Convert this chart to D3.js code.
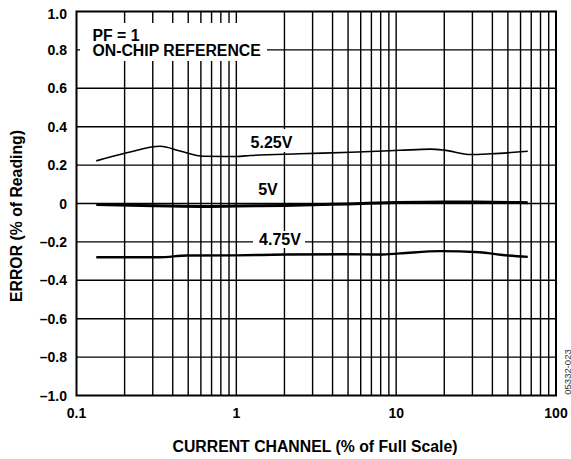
<!DOCTYPE html>
<html>
<head>
<meta charset="utf-8">
<script src="https://cdn.jsdelivr.net/npm/d3@7"></script>
<style>
body { margin: 0; background: #fff; }
text { font-family: "Liberation Sans", Arial, sans-serif; }
</style>
</head>
<body>
<div id="chart"></div>
<script>

// tick labels
var xTicks = [0.1, 1, 10, 100];
var yTicks = [-1.0, -0.8, -0.6, -0.4, -0.2, 0, 0.2, 0.4, 0.6, 0.8, 1.0];

// series (x = % of full scale, y = % error)
var x525 = [0.133, 0.206, 0.334, 0.45, 0.62, 1.0, 1.22, 2.5, 5.2, 10.6, 16.4, 19.9, 29.3, 39.3, 66.6];
var y525 = [0.222, 0.264, 0.298, 0.272, 0.246, 0.245, 0.25, 0.259, 0.267, 0.277, 0.283, 0.278, 0.255, 0.259, 0.272];

var x500 = [0.133, 0.3, 0.6, 1.0, 2.0, 5.0, 10, 20, 40, 66.6];
var y500 = [-0.005, -0.012, -0.015, -0.013, -0.01, -0.002, 0.005, 0.008, 0.007, 0.004];

var x475 = [0.133, 0.33, 0.49, 1.0, 2.0, 5.0, 8.0, 10.6, 18.9, 33.4, 45, 66.6];
var y475 = [-0.28, -0.28, -0.271, -0.27, -0.266, -0.264, -0.266, -0.26, -0.248, -0.254, -0.267, -0.278];

var curveLabels = ["5.25V", "5V", "4.75V"];

var W = 571, H = 459;
// NB: "top" is taken by window.top, so prefix these
var pLeft = 76.5, pRight = 556, pTop = 11.5, pBottom = 395.5;

var svg = d3.select("#chart").append("svg")
    .attr("width", W)
    .attr("height", H);

var x = d3.scaleLog().domain([0.1, 100]).range([pLeft, pRight]);
var y = d3.scaleLinear().domain([-1, 1]).range([pBottom, pTop]);

// minor + major vertical grid
var gridX = [];
[0.1, 1, 10].forEach(function(dec) {
    for (var k = 1; k <= 9; k++) gridX.push(dec * k);
});
gridX = gridX.filter(d => d > 0.1);

var grid = svg.append("g").attr("stroke", "#000").attr("stroke-width", 1.4);
grid.selectAll("line.v").data(gridX).enter().append("line")
    .attr("x1", d => x(d)).attr("x2", d => x(d))
    .attr("y1", pTop).attr("y2", pBottom);
grid.selectAll("line.h").data(yTicks.slice(1, -1)).enter().append("line")
    .attr("x1", pLeft).attr("x2", pRight)
    .attr("y1", d => y(d)).attr("y2", d => y(d));

// white boxes behind the notes (they hide the grid)
var boxes = [
    [80, 23, 187, 38],
    [246, 129, 50, 23],
    [253, 231, 52, 17]
];
svg.selectAll("rect.mask").data(boxes).enter().append("rect")
    .attr("x", d => d[0]).attr("y", d => d[1])
    .attr("width", d => d[2]).attr("height", d => d[3])
    .attr("fill", "#fff");

// frame
svg.append("rect")
    .attr("x", pLeft).attr("y", pTop)
    .attr("width", pRight - pLeft).attr("height", pBottom - pTop)
    .attr("fill", "none").attr("stroke", "#000").attr("stroke-width", 2);

var line = d3.line().curve(d3.curveMonotoneX);
function pts(xs, ys) { return xs.map((d, i) => [x(d), y(ys[i])]); }

var series = [
    {p: pts(x525, y525), w: 1.6},
    {p: pts(x500, y500), w: 3},
    {p: pts(x475, y475), w: 2.4}
];
svg.selectAll("path.s").data(series).enter().append("path")
    .attr("d", d => line(d.p))
    .attr("fill", "none").attr("stroke", "#000")
    .attr("stroke-width", d => d.w);

// tick labels
svg.selectAll("text.yt").data(yTicks).enter().append("text")
    .attr("x", 67).attr("y", d => y(d) + 5 + (d === 1 ? 2 : 0))
    .attr("text-anchor", "end")
    .attr("font-size", 14).attr("font-weight", "bold")
    .text(d => (d < 0 ? "\u2013" : "") + (d === 0 ? "0" : Math.abs(d).toFixed(1)));

svg.selectAll("text.xt").data(xTicks).enter().append("text")
    .attr("x", d => x(d)).attr("y", 418)
    .attr("text-anchor", "middle")
    .attr("font-size", 14).attr("font-weight", "bold")
    .text(d => String(d));

// axis titles
svg.append("text")
    .attr("x", 315).attr("y", 452)
    .attr("text-anchor", "middle")
    .attr("font-size", 15.8).attr("font-weight", "bold")
    .text("CURRENT CHANNEL (% of Full Scale)");

svg.append("text")
    .attr("transform", "translate(22,216) rotate(-90)")
    .attr("text-anchor", "middle")
    .attr("font-size", 15.8).attr("font-weight", "bold")
    .text("ERROR (% of Reading)");

// notes
svg.append("text").attr("x", 92.5).attr("y", 40.5)
    .attr("font-size", 15.8).attr("font-weight", "bold")
    .text("PF = 1");
svg.append("text").attr("x", 92.5).attr("y", 56)
    .attr("font-size", 15.8).attr("font-weight", "bold")
    .text("ON-CHIP REFERENCE");

var labelPos = [[271.5, 148.3], [268, 195], [280, 245]];
svg.selectAll("text.cl").data(curveLabels).enter().append("text")
    .attr("x", (d, i) => labelPos[i][0]).attr("y", (d, i) => labelPos[i][1])
    .attr("text-anchor", "middle")
    .attr("font-size", 16).attr("font-weight", "bold")
    .text(d => d);

svg.append("text")
    .attr("transform", "translate(570.5,372) rotate(-90)")
    .attr("text-anchor", "middle")
    .attr("font-size", 9.5).attr("fill", "#333")
    .text("05332-023");

</script>
</body>
</html>
